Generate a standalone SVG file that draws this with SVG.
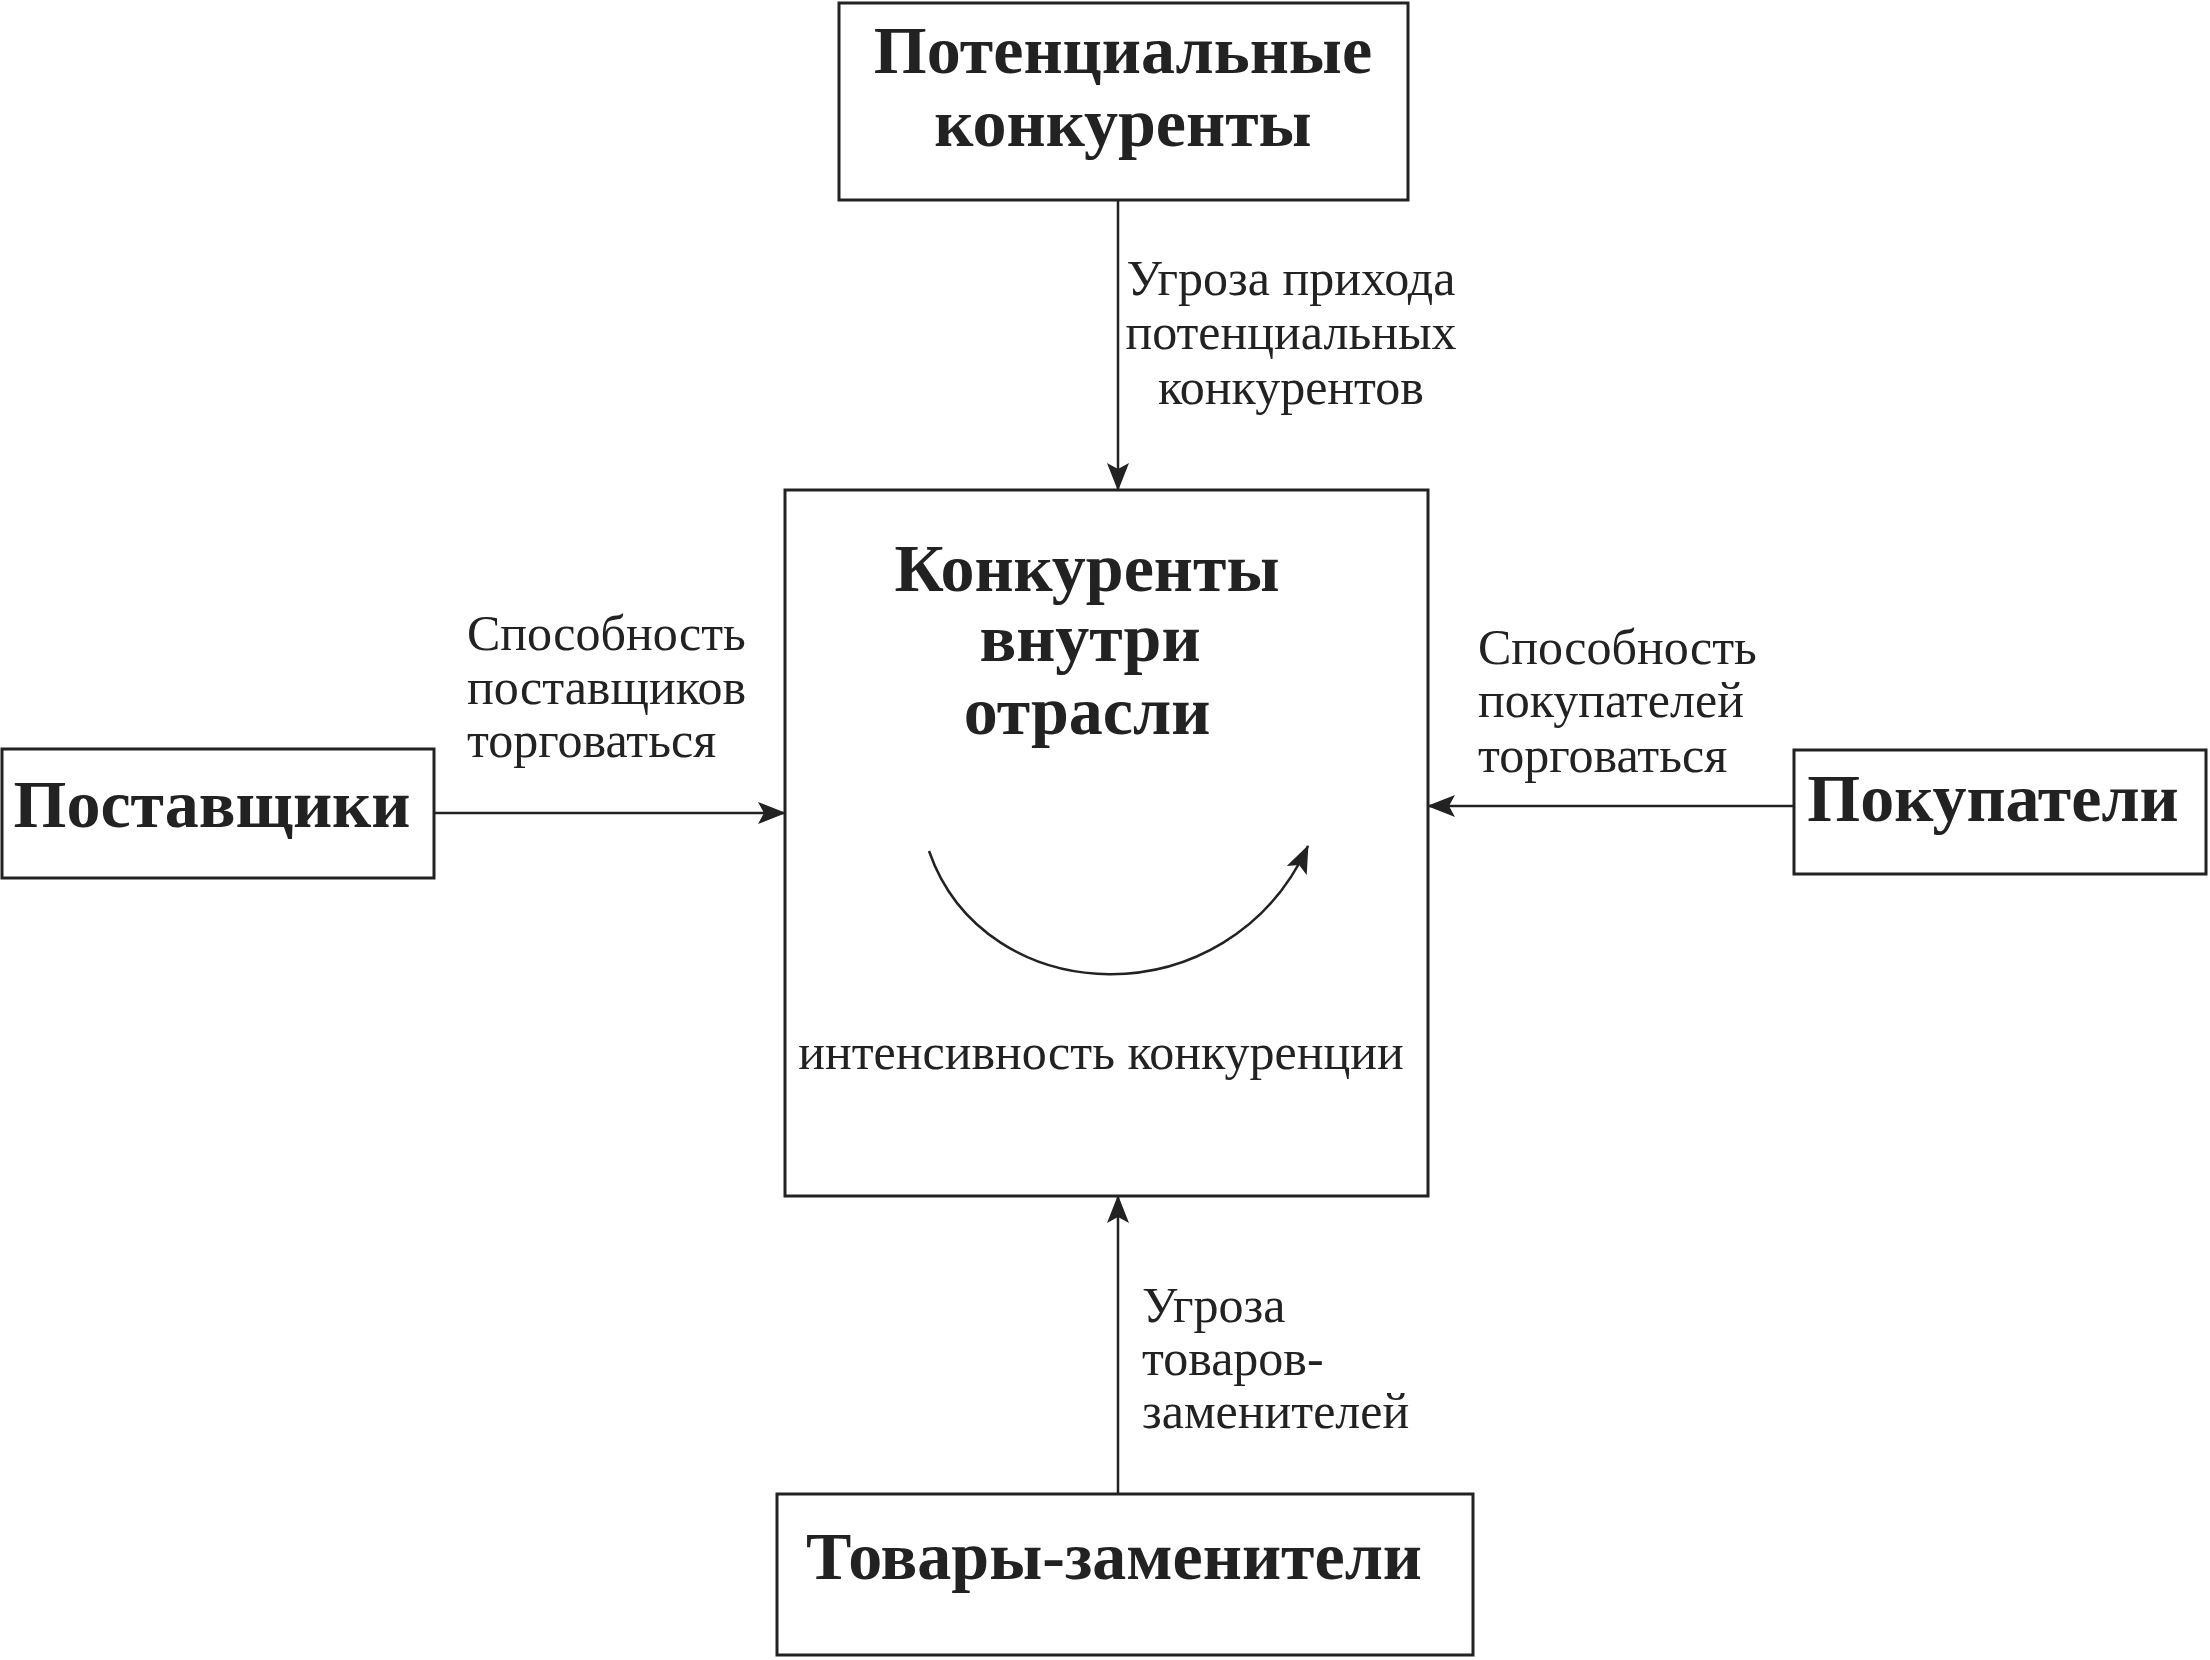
<svg xmlns="http://www.w3.org/2000/svg" width="2210" height="1660" viewBox="0 0 2210 1660">
<style>
.box{fill:#fff;stroke:#222;stroke-width:3}
.t{font-family:"Liberation Serif","Times New Roman",serif;font-weight:bold;font-size:68px;fill:#222;text-anchor:middle}
.l{font-family:"Liberation Serif","Times New Roman",serif;font-size:50px;fill:#222}
.c{stroke:#222;stroke-width:2.5;fill:none}
</style>
<defs>
<marker id="ah" viewBox="0 0 28 22" markerWidth="28" markerHeight="22" refX="27" refY="11" orient="auto" markerUnits="userSpaceOnUse">
<path d="M0,0 L28,11 L0,22 L6,11 z" fill="#222"/>
</marker>
</defs>
<rect width="2210" height="1660" fill="#fff"/>
<g id="node-potential">
<rect class="box" x="839" y="3" width="569" height="197"/>
<text class="t" x="1123" y="73">Потенциальные</text>
<text class="t" x="1123" y="146">конкуренты</text>
</g>
<g id="node-suppliers">
<rect class="box" x="2" y="749" width="432" height="129"/>
<text class="t" x="212" y="827">Поставщики</text>
</g>
<g id="node-buyers">
<rect class="box" x="1794" y="750" width="412" height="124"/>
<text class="t" x="1993" y="821">Покупатели</text>
</g>
<g id="node-substitutes">
<rect class="box" x="777" y="1494" width="696" height="161"/>
<text class="t" x="1114" y="1579">Товары-заменители</text>
</g>
<g id="node-industry">
<rect class="box" x="785" y="490" width="643" height="706"/>
<text class="t" x="1087" y="591">Конкуренты</text>
<text class="t" x="1090" y="661">внутри</text>
<text class="t" x="1087" y="734">отрасли</text>
<path class="c" d="M929 851 C985 1012 1228 1020 1308 846" marker-end="url(#ah)"/>
<text class="l" x="1101" y="1069" text-anchor="middle">интенсивность конкуренции</text>
</g>
<g id="connectors">
<line class="c" x1="1118" y1="200" x2="1118" y2="490" marker-end="url(#ah)"/>
<line class="c" x1="434" y1="813" x2="785" y2="813" marker-end="url(#ah)"/>
<line class="c" x1="1794" y1="806" x2="1428" y2="806" marker-end="url(#ah)"/>
<line class="c" x1="1118" y1="1494" x2="1118" y2="1196" marker-end="url(#ah)"/>
</g>
<g id="labels">
<text class="l" x="1291" y="295" text-anchor="middle">Угроза прихода</text>
<text class="l" x="1291" y="349" text-anchor="middle">потенциальных</text>
<text class="l" x="1291" y="404" text-anchor="middle">конкурентов</text>
<text class="l" x="467" y="650">Способность</text>
<text class="l" x="467" y="704">поставщиков</text>
<text class="l" x="467" y="757">торговаться</text>
<text class="l" x="1478" y="664">Способность</text>
<text class="l" x="1478" y="717">покупателей</text>
<text class="l" x="1478" y="772">торговаться</text>
<text class="l" x="1142" y="1322">Угроза</text>
<text class="l" x="1142" y="1375">товаров-</text>
<text class="l" x="1142" y="1428">заменителей</text>
</g>
</svg>
